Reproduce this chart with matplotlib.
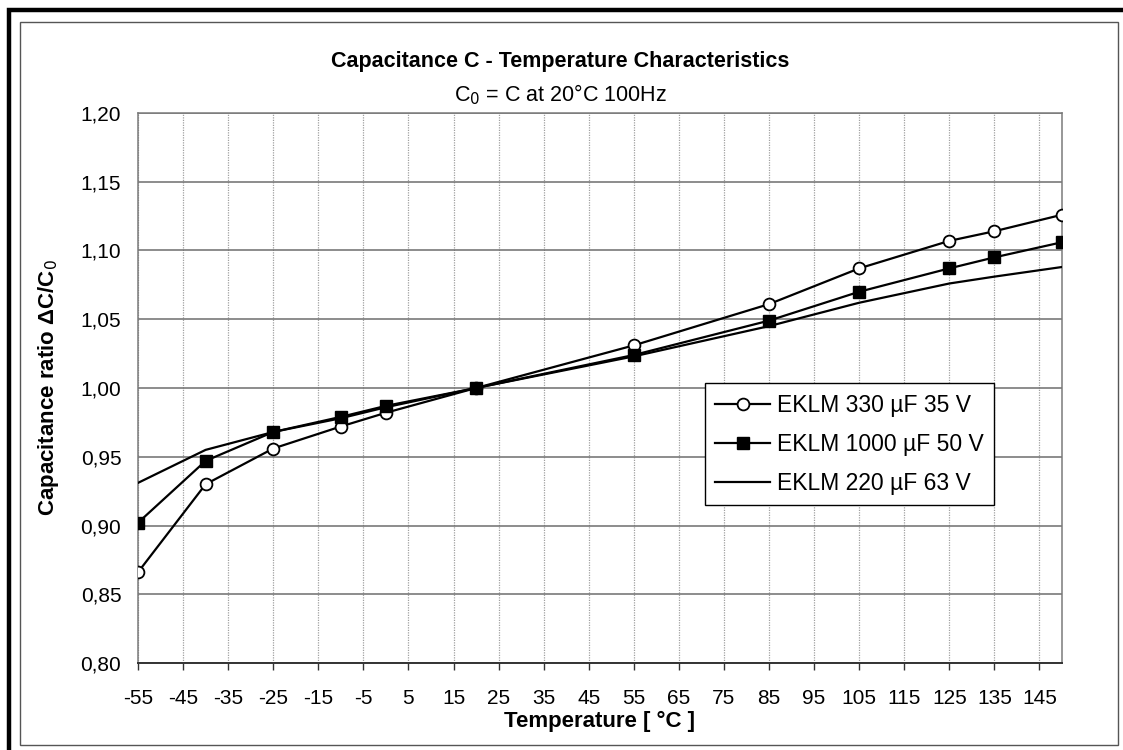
import matplotlib
matplotlib.use('Agg')
import matplotlib.pyplot as plt
from matplotlib.patches import Rectangle

plt.rcParams['font.family'] = ['Liberation Sans', 'DejaVu Sans']

# Temperaturen (°C) der Messpunkte
temps = [-55, -40, -25, -10, 0, 20, 55, 85, 105, 125, 135, 150]

# Kapazitätsverhältnis C/C0 je Typ
eklm_330 = [0.866, 0.930, 0.956, 0.972, 0.982, 1.000, 1.031, 1.061, 1.087, 1.107, 1.114, 1.126]
eklm_1000 = [0.902, 0.947, 0.968, 0.979, 0.987, 1.000, 1.024, 1.049, 1.070, 1.087, 1.095, 1.106]
eklm_220 = [0.931, 0.955, 0.968, 0.978, 0.986, 1.000, 1.023, 1.045, 1.062, 1.076, 1.081, 1.088]

labels = ['EKLM 330 µF 35 V', 'EKLM 1000 µF 50 V', 'EKLM 220 µF 63 V']

x_ticks = [-55, -45, -35, -25, -15, -5, 5, 15, 25, 35, 45, 55, 65, 75, 85, 95, 105, 115, 125, 135, 145]
y_ticks = [0.80, 0.85, 0.90, 0.95, 1.00, 1.05, 1.10, 1.15, 1.20]
y_tick_labels = ['0,80', '0,85', '0,90', '0,95', '1,00', '1,05', '1,10', '1,15', '1,20']

fig = plt.figure(figsize=(11.23, 7.5), dpi=100)
W, H = 1123, 750

# Rahmen (außen dick schwarz, innen dünn grau)
fig.patches.append(Rectangle((9 / W, -0.05), 1.2, 1 - 10 / H + 0.05,
                             transform=fig.transFigure, fill=False,
                             edgecolor='black', linewidth=3.2))
fig.patches.append(Rectangle((20 / W, 1 - 745 / H), (1118 - 20) / W, (745 - 22) / H,
                             transform=fig.transFigure, fill=False,
                             edgecolor='#555555', linewidth=1.0))

ax = fig.add_axes([138 / W, 1 - 663 / H, (1062 - 138) / W, (663 - 113) / H])

ax.plot(temps, eklm_330, color='black', linewidth=1.6, marker='o', markersize=8.5,
        markerfacecolor='white', markeredgecolor='black', markeredgewidth=1.3,
        label=labels[0], zorder=4)
ax.plot(temps, eklm_1000, color='black', linewidth=1.6, marker='s', markersize=8.5,
        markerfacecolor='black', markeredgecolor='black',
        label=labels[1], zorder=4)
ax.plot(temps, eklm_220, color='black', linewidth=1.6, label=labels[2], zorder=3)

ax.set_xlim(-55, 150)
ax.set_ylim(0.80, 1.20)
ax.set_xticks(x_ticks)
ax.set_xticklabels([str(t) for t in x_ticks])
ax.set_yticks(y_ticks)
ax.set_yticklabels(y_tick_labels)
ax.tick_params(axis='x', direction='out', length=5, width=1, labelsize=15, pad=14, color='#333333')
ax.tick_params(axis='y', length=0, labelsize=15, pad=12)

# Gitterlinien
ax.grid(axis='y', color='#6e6e6e', linewidth=1.1, linestyle='-')
ax.grid(axis='x', color='#a0a0a0', linewidth=0.9, linestyle=(0, (1, 1)))
ax.set_axisbelow(True)

for side in ['top', 'right', 'left']:
    ax.spines[side].set_color('#7a7a7a')
    ax.spines[side].set_linewidth(1.1)
ax.spines['bottom'].set_color('#333333')
ax.spines['bottom'].set_linewidth(1.4)

ax.set_xlabel('Temperature [ °C ]', fontsize=16, fontweight='bold', labelpad=2)
ax.set_ylabel('Capacitance ratio ΔC/C$_0$', fontsize=16, fontweight='bold', labelpad=14)

fig.text(560 / W, 1 - 62 / H, 'Capacitance C - Temperature Characteristics',
         ha='center', va='center', fontsize=15.5, fontweight='bold')
fig.text(560 / W, 1 - 95 / H, 'C$_0$ = C at 20°C 100Hz',
         ha='center', va='center', fontsize=15.5)

leg = ax.legend(loc='lower left', bbox_to_anchor=((705 - 138) / 924, (663 - 505) / 550),
                fontsize=16.5, frameon=True, fancybox=False, handlelength=2.4,
                handletextpad=0.3, borderpad=0.45, labelspacing=0.7, borderaxespad=0)
leg.get_frame().set_edgecolor('black')
leg.get_frame().set_linewidth(1.0)
leg.get_frame().set_alpha(1)

plt.savefig('out.png', dpi=100, facecolor='white')
plt.close()
